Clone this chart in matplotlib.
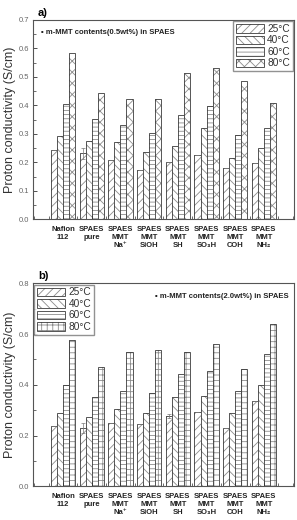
import numpy as np
import matplotlib
matplotlib.use("Agg")
import matplotlib.pyplot as plt
from matplotlib.ticker import MultipleLocator, FormatStrFormatter

plt.rcParams['font.family'] = ['Liberation Sans', 'DejaVu Sans']
plt.rcParams['hatch.linewidth'] = 0.6

# categories
samples = ["Nafion\n112", "SPAES\npure", "SPAES\nMMT\nNa\u207a", "SPAES\nMMT\nSiOH",
           "SPAES\nMMT\nSH", "SPAES\nMMT\nSO\u2083H", "SPAES\nMMT\nCOH", "SPAES\nMMT\nNH\u2082"]
temps = ["25\u00b0C", "40\u00b0C", "60\u00b0C", "80\u00b0C"]

# panel a) 0.5 wt% m-MMT
a_25 = [0.242, 0.232, 0.210, 0.173, 0.200, 0.225, 0.181, 0.197]
a_40 = [0.291, 0.276, 0.271, 0.236, 0.259, 0.322, 0.214, 0.251]
a_60 = [0.403, 0.353, 0.332, 0.302, 0.367, 0.398, 0.296, 0.319]
a_80 = [0.582, 0.444, 0.421, 0.423, 0.514, 0.532, 0.486, 0.408]

# panel b) 2.0 wt% m-MMT
b_25 = [0.239, 0.229, 0.249, 0.246, 0.278, 0.293, 0.229, 0.336]
b_40 = [0.288, 0.274, 0.304, 0.288, 0.351, 0.357, 0.287, 0.401]
b_60 = [0.400, 0.350, 0.375, 0.368, 0.442, 0.453, 0.375, 0.522]
b_80 = [0.578, 0.472, 0.528, 0.538, 0.528, 0.559, 0.462, 0.639]

# small error bars at 25C
a_err25 = [0, 0.02, 0, 0, 0, 0, 0, 0]
b_err25 = [0, 0.02, 0, 0, 0.008, 0, 0, 0]

fig = plt.figure(figsize=(2.97, 5.20), dpi=100)
ax1 = fig.add_axes([0.111, 0.578, 0.879, 0.384])
ax2 = fig.add_axes([0.111, 0.065, 0.879, 0.390])

x = np.arange(len(samples))
w = 0.21
ec = '#3a3a3a'


def draw(ax, series, hatches, err, ylim, major, minor, note, note_x, note_ha, leg_loc):
    handles = []
    for i, (vals, h) in enumerate(zip(series, hatches)):
        hb = ax.bar(x + (i - 1.5) * w, vals, w, facecolor='white', edgecolor='#8c8c8c',
                    hatch=h, linewidth=0)
        ob = ax.bar(x + (i - 1.5) * w, vals, w, fill=False, edgecolor=ec, linewidth=0.6)
        handles.append((hb[0], ob[0]))
    ax.errorbar(x - 1.5 * w, series[0], yerr=err, fmt='none', ecolor='#777777',
                elinewidth=0.5, capsize=1.5, capthick=0.5)
    ax.set_xlim(-1.05, 8.05)
    ax.set_ylim(*ylim)
    ax.set_xticks(x)
    ax.set_xticklabels(samples, fontsize=5.5, fontweight='bold', linespacing=1.15)
    ax.xaxis.set_minor_locator(MultipleLocator(0.5))
    ax.yaxis.set_major_locator(MultipleLocator(major))
    ax.yaxis.set_minor_locator(MultipleLocator(minor))
    ax.yaxis.set_major_formatter(FormatStrFormatter('%.1f'))
    ax.tick_params(axis='x', which='major', direction='in', length=3, width=0.6, pad=5,
                   color='#333333')
    ax.tick_params(axis='x', which='minor', direction='in', length=2, width=0.5, color='#333333')
    ax.tick_params(axis='y', which='major', direction='in', length=3, width=0.6, labelsize=5.5,
                   labelcolor='#666666', color='#333333', pad=3)
    ax.tick_params(axis='y', which='minor', direction='in', length=2, width=0.5, color='#333333')
    for lab in ax.get_xticklabels():
        lab.set_color('#222222')
    for s in ax.spines.values():
        s.set_linewidth(0.8)
        s.set_color('#555555')
    ax.set_ylabel("Proton conductivity (S/cm)", fontsize=9, color='#333333')
    ax.yaxis.set_label_coords(-0.066, 0.5)
    ax.text(note_x, 0.955, "\u25aa m-MMT contents(" + note + ") in SPAES", transform=ax.transAxes,
            ha=note_ha, va='top', fontsize=5.5, fontweight='bold', color='#222222')
    ax.legend(handles, temps, loc=leg_loc, fontsize=7.3, frameon=True, fancybox=False,
              edgecolor='#777777', handlelength=2.8, handleheight=0.9, handletextpad=0.3,
              borderpad=0.25, labelspacing=0.15, borderaxespad=0.15, labelcolor='#333333')


draw(ax1, [a_25, a_40, a_60, a_80], ['////', '\\\\\\\\', '----', 'xxx'], a_err25,
     (0, 0.7), 0.1, 0.05, "0.5wt%", 0.03, 'left', 'upper right')
draw(ax2, [b_25, b_40, b_60, b_80], ['////', '\\\\\\\\', '----', '+++'], b_err25,
     (0, 0.8), 0.2, 0.1, "2.0wt%", 0.98, 'right', 'upper left')

fig.text(0.128, 0.985, "a)", fontsize=8, fontweight='bold', va='top')
fig.text(0.128, 0.478, "b)", fontsize=8, fontweight='bold', va='top')

fig.savefig("out.png", dpi=100)
